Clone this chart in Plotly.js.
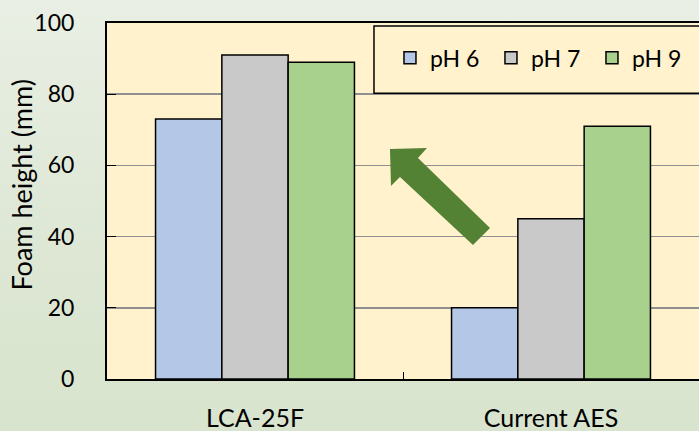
<!DOCTYPE html>
<html>
<head>
<meta charset="utf-8">
<script src="https://cdn.plot.ly/plotly-3.0.1.min.js"></script>
<style>
  html, body { margin: 0; padding: 0; }
  body { width: 699px; height: 431px; background: linear-gradient(to bottom, #e9efe4 0%, #dde7d4 60%, #d8e4cd 100%); }
  #chart { width: 699px; height: 431px; }
</style>
</head>
<body>
<div id="chart"></div>
<script>
const categories = ["LCA-25F", "Current AES"];
const seriesNames = ["pH 6", "pH 7", "pH 9"];
const ph6 = [73, 20];
const ph7 = [91, 45];
const ph9 = [89, 71];
const yTickVals = [0, 20, 40, 60, 80, 100];
const yTitle = "Foam height (mm)";

const colors = ["#B4C7E7", "#C9C9C9", "#A9D18E"];
const seriesValues = [ph6, ph7, ph9];
const FONT = "Lato, 'Open Sans', sans-serif";

const traces = seriesNames.map((name, i) => ({
  type: "bar",
  name: name,
  x: categories,
  y: seriesValues[i],
  marker: { color: colors[i], line: { color: "#000000", width: 1.5 } },
  hoverinfo: "skip"
}));

const layout = {
  width: 699,
  height: 431,
  margin: { l: 107, r: 0, t: 23, b: 52, pad: 0 },
  paper_bgcolor: "rgba(0,0,0,0)",
  plot_bgcolor: "#FFF2CC",
  barmode: "group",
  bargap: 0.328,
  bargroupgap: 0,
  font: { family: FONT, color: "#000000", size: 23 },
  showlegend: true,
  legend: {
    orientation: "h",
    x: 0.478, xanchor: "left",
    y: 0.902, yanchor: "middle",
    bgcolor: "rgba(0,0,0,0)",
    borderwidth: 0,
    font: { family: FONT, size: 23, color: "#000000" },
    entrywidthmode: "pixels",
    entrywidth: 56,
    traceorder: "normal"
  },
  xaxis: {
    type: "category",
    showline: true, linecolor: "#000000", linewidth: 2, mirror: true,
    ticks: "inside", tickson: "boundaries", ticklen: 7, tickcolor: "#000000", tickwidth: 1,
    ticklabelstandoff: 16,
    tickfont: { family: FONT, size: 25, color: "#000000" },
    showgrid: false, zeroline: false, fixedrange: true
  },
  yaxis: {
    range: [0, 100],
    tickvals: yTickVals,
    showline: true, linecolor: "#000000", linewidth: 2,
    ticks: "inside", ticklen: 9, tickcolor: "#000000", tickwidth: 1,
    ticklabelstandoff: 26,
    tickfont: { family: FONT, size: 23, color: "#000000" },
    showgrid: true, gridcolor: "#8f8f8f", gridwidth: 1.5,
    zeroline: false, fixedrange: true
  },
  shapes: [
    {
      type: "rect", xref: "paper", yref: "paper", layer: "above",
      x0: 0.451, x1: 1.05, y0: 0.803, y1: 0.9916,
      fillcolor: "#FFF2CC", line: { color: "#000000", width: 1.5 }
    },
    {
      type: "path", xref: "paper", yref: "paper", layer: "above",
      path: "M0.4780,0.6461 L0.5405,0.6489 L0.5253,0.6208 L0.6470,0.4242 L0.6182,0.3764 L0.4949,0.5674 L0.4797,0.5421 Z",
      fillcolor: "#548235", line: { width: 0 }
    }
  ],
  annotations: [
    {
      xref: "paper", yref: "paper",
      x: -0.1444, y: 0.545, xanchor: "center", yanchor: "middle",
      text: yTitle, textangle: -90, showarrow: false,
      font: { family: FONT, size: 27, color: "#000000" }
    }
  ]
};

Plotly.newPlot("chart", traces, layout, { displayModeBar: false, staticPlot: true });
</script>
</body>
</html>
